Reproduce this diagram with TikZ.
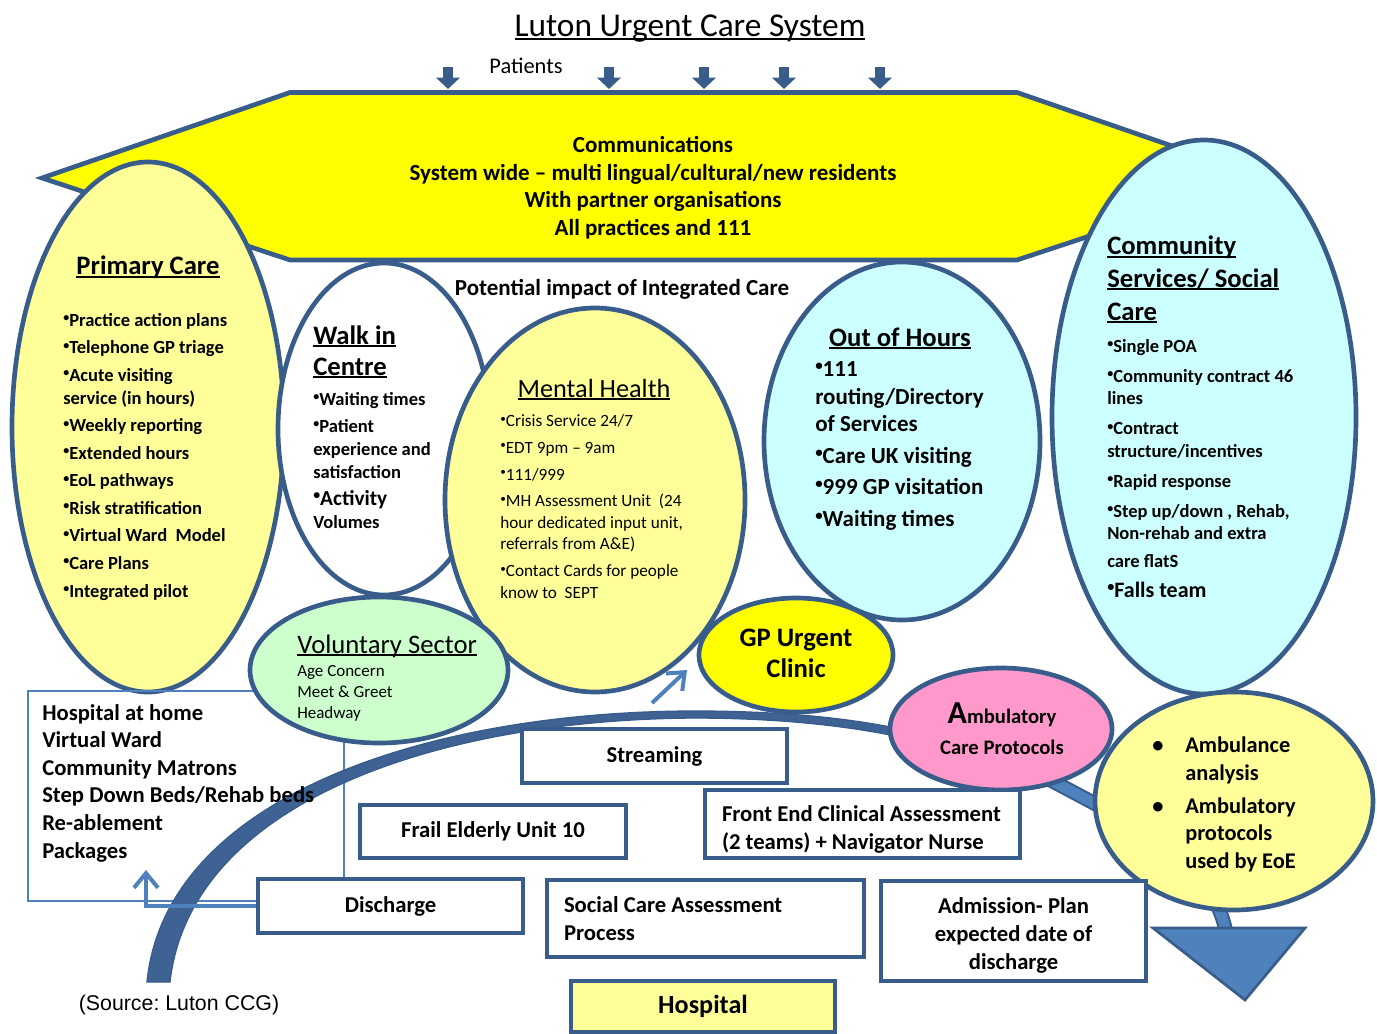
\documentclass[tikz,border=0pt]{standalone}
\usepackage{fontspec}
\setmainfont{Carlito}
\newfontfamily\arialfont{Liberation Sans}
\usepackage{graphicx}
\usepackage{tikz}
\usetikzlibrary{arrows.meta}

\definecolor{bordblue}{HTML}{385D8A}
\definecolor{lightblue}{HTML}{4F81BD}
\definecolor{bandblue}{HTML}{3D6293}
\definecolor{brightyellow}{HTML}{FFFF00}
\definecolor{paleyellow}{HTML}{FFFF99}
\definecolor{paleteal}{HTML}{CCFFFF}
\definecolor{palegreen}{HTML}{CCFFCC}
\definecolor{pinkamb}{HTML}{FF99CC}

\newsavebox{\undlbox}
\newcommand{\undl}[1]{\sbox{\undlbox}{#1}\rlap{\rule[-0.1em]{\wd\undlbox}{0.065em}}\usebox{\undlbox}}
\newcommand{\bul}{\raisebox{0.25em}{\scalebox{0.65}{•}}}
\newcommand{\fsz}[2]{\fontsize{#1}{#2}\selectfont}

\begin{document}
\frenchspacing
\begin{tikzpicture}[x=0.75pt,y=0.75pt,yscale=-1,xscale=1,
  shapeline/.style={draw=bordblue,line width=3.5pt},
  boxnode/.style={draw=bordblue,line width=3.4pt,fill=white,inner sep=0pt,align=center,font={\fsz{17}{21}\bfseries}},
  txt/.style={inner sep=0pt,align=left},
  patarrow/.style={bordblue,line width=7.5pt,-{Triangle[width=17.5pt,length=8.5pt]}},
  lbarrow/.style={lightblue,line width=3pt,-{Straight Barb[width=18pt,length=11pt]}}]
\useasboundingbox (0,0) rectangle (1377,1034);

%Shape: Hexagon (communications)
\draw[shapeline,fill=brightyellow] (290,92.5) -- (1017,92.5) -- (1265,178) -- (1017,260) -- (290,260) -- (42,178) -- cycle;
%Patients arrows
\foreach \px in {448,609,704,784,880}
  \draw[patarrow] (\px,67) -- (\px,89);

%Shape: Ellipse [primary care]
\draw[shapeline,fill=paleyellow] (148,427) ellipse (136 and 265);
%Shape: Ellipse [community]
\draw[shapeline,fill=paleteal] (1204,417) ellipse (152 and 277);
%Shape: Ellipse [walk in]
\draw[shapeline,fill=white] (384,429) ellipse (106 and 166);
%Shape: Ellipse [out of hours]
\draw[shapeline,fill=paleteal] (902,441) ellipse (138 and 179);
%Shape: Ellipse [mental health]
\draw[shapeline,fill=paleyellow] (595,500) ellipse (150 and 192);

%Hospital at home box
\node[draw=lightblue,line width=1.5pt,anchor=north west,minimum width=237pt,minimum height=157.5pt,inner sep=0pt] (hah) at (27,690) {};

%Shape: Ellipse [voluntary]
\draw[shapeline,fill=palegreen] (379,670) ellipse (129 and 73);
%Shape: Ellipse [gp urgent]
\draw[shapeline,fill=brightyellow] (796,655) ellipse (97 and 57);

%Curved band
\filldraw[fill=bandblue,draw=bordblue,line width=1pt] (147,982) .. controls (165,800) and (420,712) .. (693,711) .. controls (780,711) and (850,718) .. (905,730) -- (905,738) .. controls (850,726) and (780,718) .. (693,718) .. controls (430,720) and (190,805) .. (170,982) -- cycle;
\draw[draw=bordblue,line width=1.5pt,double=lightblue,double distance=8pt] (995,750) .. controls (1110,815) and (1210,850) .. (1226,932);

%Shape: Ellipse [ambulatory]
\draw[shapeline,fill=pinkamb] (1001,729) ellipse (111 and 61);
%Shape: Ellipse [ambulance analysis]
\draw[shapeline,fill=paleyellow] (1234,801) ellipse (139 and 109);
%Arrow head
\filldraw[fill=lightblue,draw=bordblue,line width=2pt] (1153,928) -- (1305,928) -- (1245,1000) -- cycle;

%Boxes
\node[boxnode,minimum width=198.75pt,minimum height=40.5pt] (streaming) at (654.5,756) {Streaming};
\node[boxnode,minimum width=199.5pt,minimum height=39.75pt] (frail) at (493,831.5) {Frail Elderly Unit 10};
\node[boxnode,minimum height=51pt,text width=210.75pt,inner xsep=12.75pt,align=flush left] (frontend) at (862.5,824) {\rule{0pt}{20pt}Front End Clinical Assessment\\(2 teams) + Navigator Nurse};
\node[boxnode,minimum width=198.75pt,minimum height=40.5pt] (discharge) at (390.5,906) {Discharge};
\node[boxnode,minimum height=57.75pt,text width=212.25pt,inner xsep=12.75pt,align=flush left] (socialcare) at (705.5,918.5) {Social Care Assessment\\Process};
\node[boxnode,minimum width=198.75pt,minimum height=75pt] (admission) at (1013.5,931) {\rule{0pt}{19pt}Admission- Plan\\expected date of\\discharge};
\node[boxnode,fill=paleyellow,minimum width=198pt,minimum height=38.25pt,font={\fsz{19.6}{23}\bfseries}] (hospital) at (703,1006.5) {Hospital};

% Text Node
\node[txt,anchor=base,font={\fsz{25}{30}}] (title) at (690,37) {\undl{Luton Urgent Care System}};
% Text Node
\node[txt,anchor=base,font={\fsz{16.8}{20}}] (patients) at (526,74) {Patients};
% Text Node
\node[txt,align=center,anchor=base,font={\fsz{17.25}{20.8}\bfseries}] (comms) at (653,235.5) {Communications\\System wide – multi lingual/cultural/new residents\\With partner organisations\\All practices and 111};
% Text Node
\node[txt,anchor=base,font={\fsz{17.25}{20}\bfseries}] (impact) at (622,296) {Potential impact of Integrated Care};
% Text Node
\node[txt,anchor=base,font={\fsz{20}{24}\bfseries}] (pctitle) at (148,275) {\undl{Primary Care}};
% Text Node
\node[txt,anchor=base west,font={\fsz{13.9}{17.25}\bfseries}] (pclist) at (63,597) {\bul Practice action plans\\[3.4pt]\bul Telephone GP triage\\[3.4pt]\bul Acute visiting\\service (in hours)\\[3.4pt]\bul Weekly reporting\\[3.4pt]\bul Extended hours\\[3.4pt]\bul EoL pathways\\[3.4pt]\bul Risk stratification\\[3.4pt]\bul Virtual Ward\ \ Model\\[3.4pt]\bul Care Plans\\[3.4pt]\bul Integrated pilot};
% Text Node
\node[txt,anchor=base west,font={\fsz{20}{23.25}\bfseries}] (wictitle) at (313,375) {\undl{Walk in}\\\undl{Centre}};
% Text Node
\node[txt,anchor=base west,font={\fsz{13.9}{17.25}\bfseries}] (wiclist) at (313,528) {\bul Waiting times\\[3pt]\bul Patient\\experience and\\satisfaction\\[3pt]{\fsz{16}{17.25}\bul Activity}\\Volumes};
% Text Node
\node[txt,anchor=base,font={\fsz{19.7}{24}}] (mhtitle) at (594,397) {\undl{Mental Health}};
% Text Node
\node[txt,anchor=base west,font={\fsz{12.9}{16.1}}] (mhlist) at (500,598) {\bul Crisis Service 24/7\\[4pt]\bul EDT 9pm – 9am\\[4pt]\bul 111/999\\[4pt]\bul MH Assessment Unit\ \ (24\\hour dedicated input unit,\\referrals from A\&E)\\[4pt]\bul Contact Cards for people\\know to\ \ SEPT};
% Text Node
\node[txt,anchor=base,font={\fsz{20}{24}\bfseries}] (oohtitle) at (900,346) {\undl{Out of Hours}};
% Text Node
\node[txt,anchor=base west,font={\fsz{17.25}{20.6}\bfseries}] (oohlist) at (815,526) {\bul 111\\routing/Directory\\of Services\\[3pt]\bul Care UK visiting\\[3pt]\bul 999 GP visitation\\[3pt]\bul Waiting times};
% Text Node
\node[txt,anchor=base west,font={\fsz{20}{24.4}\bfseries}] (cstitle) at (1107,320) {\undl{Community}\\\undl{Services/ Social}\\\undl{Care}};
% Text Node
\node[txt,anchor=base west,font={\fsz{13.9}{16.9}\bfseries}] (cslist) at (1107,597) {\bul Single POA\\[5.6pt]\bul Community contract 46\\lines\\[5.6pt]\bul Contract\\structure/incentives\\[5.6pt]\bul Rapid response\\[5.6pt]\bul Step up/down , Rehab,\\Non-rehab and extra\\[3.4pt]care flatS\\[5.6pt]{\fsz{16.5}{16.9}\bul Falls team}};
% Text Node
\node[txt,anchor=base west,font={\fsz{20}{24}}] (vstitle) at (297,653) {\undl{Voluntary Sector}};
% Text Node
\node[txt,anchor=base west,font={\fsz{12.75}{15.4}}] (vslist) at (297,718) {Age Concern\\Meet \& Greet\\Headway};
% Text Node
\node[txt,align=center,anchor=base,font={\fsz{20}{23}\bfseries}] (gptext) at (796,677) {GP Urgent\\Clinic};
% Text Node
\node[txt,align=center,anchor=base,font={\fsz{15.5}{23}\bfseries}] (ambtext) at (1002,754) {{\fsz{24}{23}A}mbulatory\\Care Protocols};
% Text Node
\node[txt,anchor=base west,font={\fsz{16.8}{20.6}\bfseries}] (ambcirc) at (1185,868) {\llap{\makebox[24.75pt][l]{•}}Ambulance\\analysis\\[4pt]\llap{\makebox[24.75pt][l]{•}}Ambulatory\\protocols\\used by EoE};
% Text Node
\node[txt,anchor=base west,font={\fsz{17}{20.7}\bfseries}] (hahtext) at (42,858) {Hospital at home\\Virtual Ward\\Community Matrons\\Step Down Beds/Rehab beds\\Re-ablement\\Packages};
% Text Node
\node[txt,anchor=base,font={\arialfont\fsz{16}{19}}] (source) at (179,1010) {(Source: Luton CCG)};

%Arrows
\coordinate (hahin) at (146,870);
\draw[lbarrow] (discharge.west) -| (hahin);
\coordinate (mhfoot) at (652,703);
\coordinate (mhtip) at (687,670);
\draw[lbarrow] (mhfoot) -- (mhtip);

\end{tikzpicture}
\end{document}
